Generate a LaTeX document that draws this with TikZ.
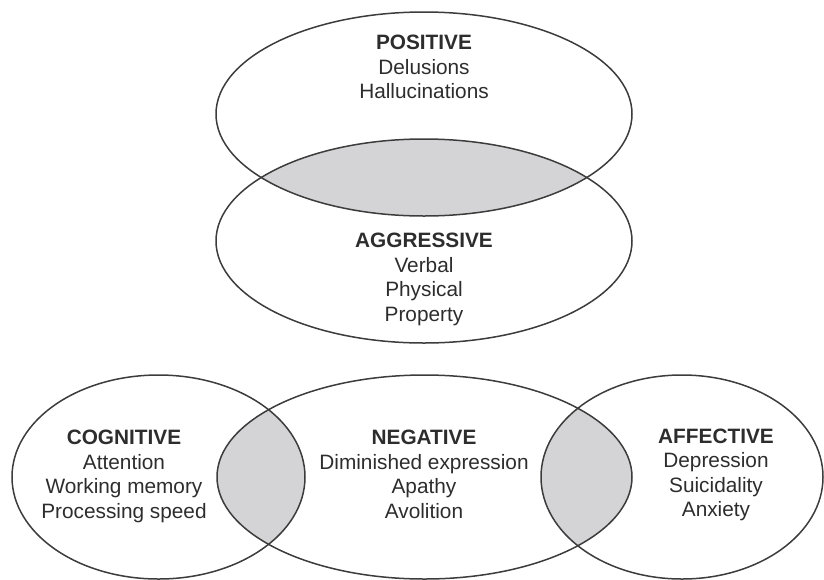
\documentclass[tikz,border=0pt]{standalone}
\usepackage{fontspec}
\setmainfont{Liberation Sans}
\usetikzlibrary{positioning}
\definecolor{lensgray}{RGB}{212,212,214}
\definecolor{linegray}{RGB}{60,60,60}
\definecolor{textgray}{RGB}{45,45,45}
\tikzset{
  symptom/.style={draw=linegray, line width=0.75pt},
  lens/.style={fill=lensgray},
  symtext/.style={align=center, anchor=north, inner sep=0pt, text=textgray,
    font=\fontsize{10.4}{12.25}\selectfont}
}

\begin{document}
\begin{tikzpicture}[x=0.5pt, y=-0.5pt]
\useasboundingbox (0,0) rectangle (824,579);

% Shaded overlaps
\begin{scope}
  \clip (424,114) ellipse [x radius=104pt, y radius=51pt];
  \fill[lens] (424,241) ellipse [x radius=104pt, y radius=51pt];
\end{scope}
\begin{scope}
  \clip (158.5,477) ellipse [x radius=73.25pt, y radius=51pt];
  \fill[lens] (424.5,477) ellipse [x radius=103.75pt, y radius=51pt];
\end{scope}
\begin{scope}
  \clip (682,477) ellipse [x radius=70.5pt, y radius=51pt];
  \fill[lens] (424.5,477) ellipse [x radius=103.75pt, y radius=51pt];
\end{scope}

% Symptom domains
\draw[symptom] (424,114) ellipse [x radius=104pt, y radius=51pt];
\draw[symptom] (424,241) ellipse [x radius=104pt, y radius=51pt];
\draw[symptom] (158.5,477) ellipse [x radius=73.25pt, y radius=51pt];
\draw[symptom] (424.5,477) ellipse [x radius=103.75pt, y radius=51pt];
\draw[symptom] (682,477) ellipse [x radius=70.5pt, y radius=51pt];

% Labels
\node[symtext] (positive) at (424,35) {\textbf{POSITIVE}\\Delusions\\Hallucinations};
\node[symtext] (aggressive) at (424,233) {\textbf{AGGRESSIVE}\\Verbal\\Physical\\Property};
\node[symtext] (cognitive) at (124,430) {\textbf{COGNITIVE}\\Attention\\Working memory\\Processing speed};
\node[symtext] (negative) at (424,430) {\textbf{NEGATIVE}\\Diminished expression\\Apathy\\Avolition};
\node[symtext] (affective) at (716,428.5) {\textbf{AFFECTIVE}\\Depression\\Suicidality\\Anxiety};
\end{tikzpicture}
\end{document}
